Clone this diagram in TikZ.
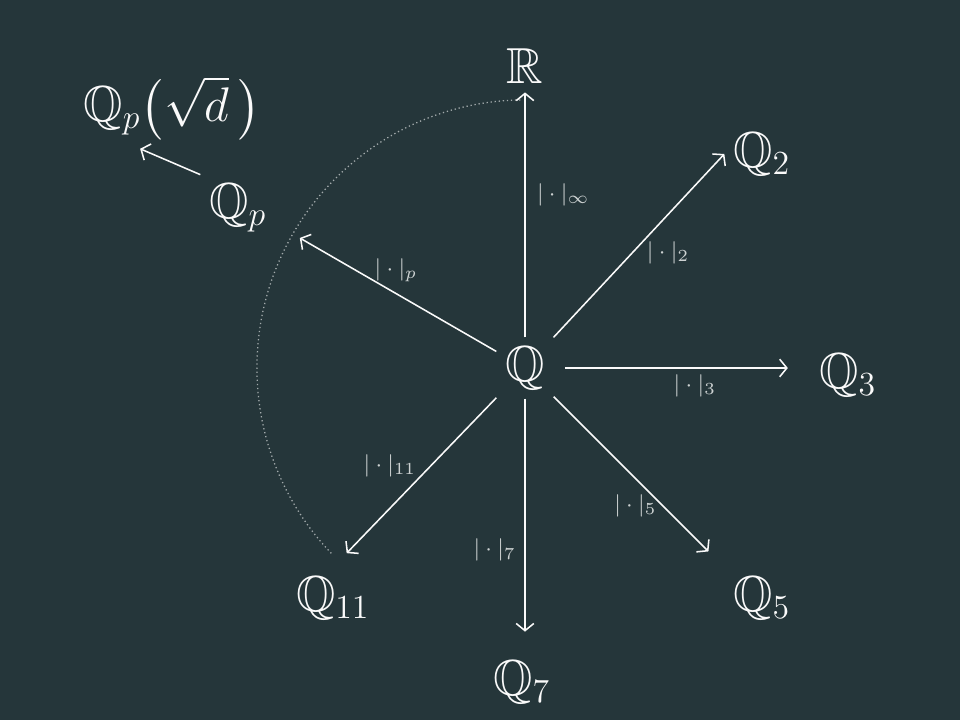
\documentclass[tikz,border=0pt]{standalone}
\usetikzlibrary{calc,arrows.meta}
\usepackage{amsmath,amssymb}
\definecolor{boardcol}{RGB}{37,54,58}
\definecolor{chalkcol}{RGB}{250,250,250}
\definecolor{dimcol}{RGB}{205,210,210}

\begin{document}
\begin{tikzpicture}[
  x=0.0125cm, y=0.0125cm,
  field/.style={text=chalkcol, inner sep=3pt, font=\fontsize{18}{22}\selectfont},
  lbl/.style={text=dimcol, inner sep=2pt, font=\footnotesize},
  arr/.style={-{Straight Barb[length=0.9mm, width=2.2mm]}, line width=0.55pt, chalkcol}
]
\fill[boardcol] (0,0) rectangle (960,720);
\useasboundingbox (0,0) rectangle (960,720);

% ---------------- the rationals and their completions ----------------
\node[field] (q)   at (525,352) {$\mathbb{Q}$};
\node[field] (r)   at (525,654) {$\mathbb{R}$};
\node[field] (q2)  at (762,566) {$\mathbb{Q}_2$};
\node[field] (q3)  at (848,345) {$\mathbb{Q}_3$};
\node[field] (q5)  at (762,122) {$\mathbb{Q}_5$};
\node[field] (q7)  at (522,38)  {$\mathbb{Q}_7$};
\node[field] (q11) at (333,122) {$\mathbb{Q}_{11}$};
\node[field] (qp)  at (238,512) {$\mathbb{Q}_p$};
\node[field] (qpd) at (172,612) {$\mathbb{Q}_p\bigl(\sqrt{d}\,\bigr)$};

% end of the p-adic arrow, on the dotted arc
\coordinate (arcp) at ($(q)+(150:3.25cm)$);

% ---------------- dotted arc of the remaining places ----------------
\draw[dimcol!75!boardcol, densely dotted, line width=0.45pt] ($(q)+(91:3.35cm)$) arc[start angle=91, end angle=224, radius=3.35cm];

% ---------------- absolute values ----------------
\draw[arr] (q) -- node[lbl, pos=.58, right=2pt] {$|\cdot|_\infty$} (r);
\draw[arr] (q) -- node[lbl, pos=.46, right=3pt] {$|\cdot|_2$} (q2.west);
\draw[arr, shorten <=4pt, shorten >=8pt] (q) -- node[lbl, pos=.55, below] {$|\cdot|_3$} (q -| q3.west);
\draw[arr, shorten >=8pt] (q) -- node[lbl, pos=.64, left] {$|\cdot|_5$} (q5.north west);
\draw[arr, shorten >=7pt] (q) -- node[lbl, pos=.6, left=1pt] {$|\cdot|_7$} (q |- q7.north);
\draw[arr, shorten >=7pt] (q) -- node[lbl, pos=.4, left=3pt] {$|\cdot|_{11}$} (q11.north);
\draw[arr] (q) -- node[lbl, pos=.51, above=2pt] {$|\cdot|_p$} (arcp);

% ---------------- extension ----------------
\draw[arr] (qp.north west) -- (qpd.232);

\end{tikzpicture}
\end{document}
